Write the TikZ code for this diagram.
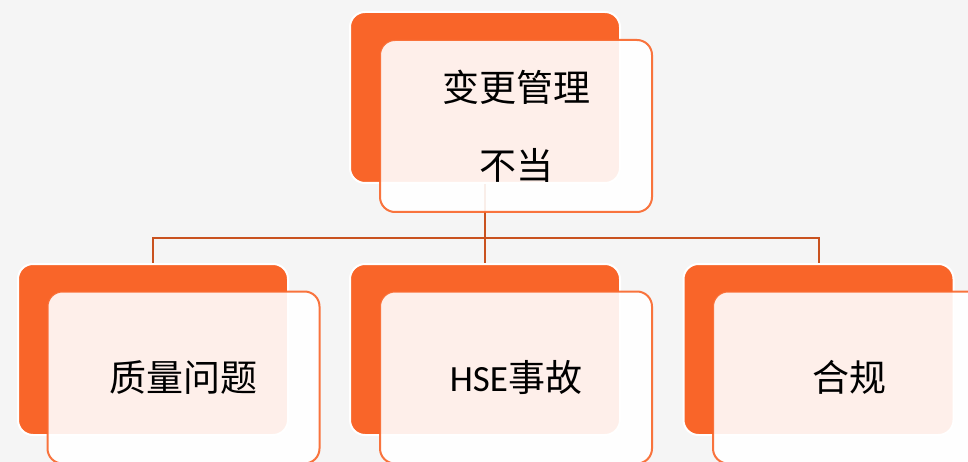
\documentclass[tikz,border=0pt]{standalone}
\usepackage{fontspec}
\usetikzlibrary{backgrounds}
\newfontfamily\cjk{Noto Sans CJK SC}
\newfontfamily\lat{Carlito}
\definecolor{orng}{HTML}{F96529}
\definecolor{lnc}{HTML}{C9521F}
\definecolor{bgc}{HTML}{F5F5F5}
\begin{document}
\begin{tikzpicture}[x=1pt,y=-1pt,
  backbox/.style={draw=white, line width=2pt, fill=orng, rounded corners=15pt,
    minimum width=270pt, minimum height=171pt, inner sep=0pt},
  frontbox/.style={draw=orng, line width=2pt, fill=white, fill opacity=0.9,
    draw opacity=0.9, text opacity=1, rounded corners=15pt,
    minimum width=272pt, minimum height=172pt, inner sep=0pt, align=center,
    font=\cjk\fontsize{37pt}{78pt}\selectfont},
  link/.style={draw=lnc, line width=2pt}]
\useasboundingbox (0,0) rectangle (968,462);
\clip (0,0) rectangle (968,462);
\node[backbox] (tb) at (485,97.5) {};
\node[backbox] (lb) at (153,349.5) {};
\node[backbox] (mb) at (485,349.5) {};
\node[backbox] (rb) at (818.5,349.5) {};
\node[frontbox] (tf) at (516,126) {变更管理\\不当};
\node[frontbox] (lf) at (183.5,377.5) {质量问题};
\node[frontbox] (mf) at (516,377.5) {{\lat HSE}事故};
\node[frontbox] (rf) at (849,377.5) {合规};
\coordinate (bus) at (485,238);
\begin{pgfonlayer}{background}
\fill[bgc] (0,0) rectangle (968,462);
\draw[link] (tb.center) -- (bus);
\draw[link] (bus) -| (lb.center);
\draw[link] (bus) -| (rb.center);
\draw[link] (bus) -- (mb.center);
\end{pgfonlayer}
\end{tikzpicture}
\end{document}
